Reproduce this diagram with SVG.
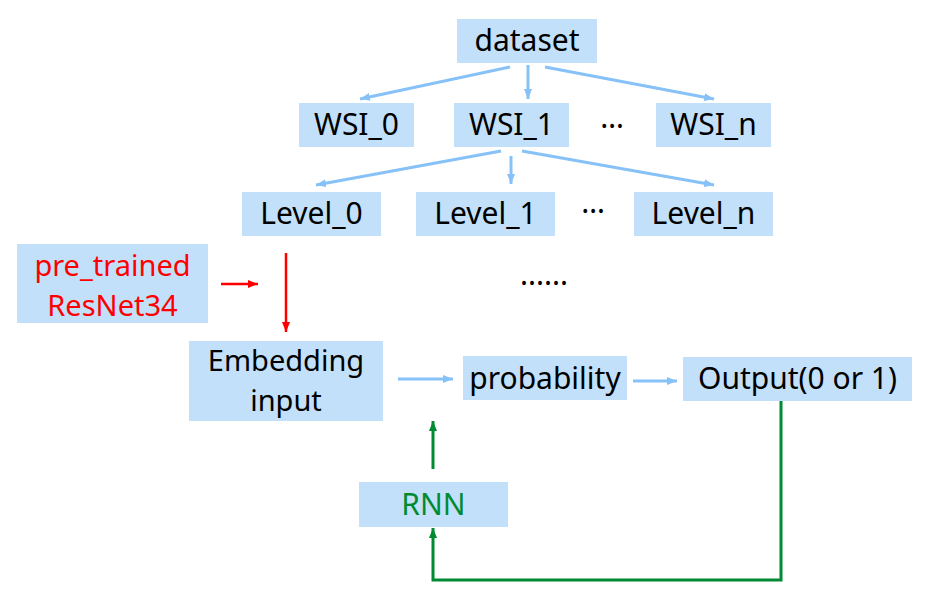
<svg xmlns="http://www.w3.org/2000/svg" width="926" height="597" viewBox="0 0 926 597">
<style>
.box{fill:#C3E0FA;}
.t{font-family:"Noto Sans","Open Sans","DejaVu Sans",sans-serif;font-size:30px;fill:#000;text-anchor:middle;}
.t2{font-size:29px;}
.red{fill:#FF0000;}
.grn{fill:#008A32;}
.cb{stroke:#86C1F8;stroke-width:3;fill:none;marker-end:url(#ab);}
.cr{stroke:#FF0000;stroke-width:2.5;fill:none;marker-end:url(#ar);}
.cg{stroke:#008A32;stroke-width:3;fill:none;marker-end:url(#ag);}
</style>
<defs>
<marker id="ab" markerUnits="userSpaceOnUse" viewBox="0 0 10 8" refX="10" refY="4" markerWidth="10" markerHeight="8" orient="auto"><path d="M0,0 L10,4 L0,8 z" fill="#86C1F8"/></marker>
<marker id="ar" markerUnits="userSpaceOnUse" viewBox="0 0 10 8" refX="10" refY="4" markerWidth="10" markerHeight="8" orient="auto"><path d="M0,0 L10,4 L0,8 z" fill="#FF0000"/></marker>
<marker id="ag" markerUnits="userSpaceOnUse" viewBox="0 0 10 8" refX="10" refY="4" markerWidth="10" markerHeight="8" orient="auto"><path d="M0,0 L10,4 L0,8 z" fill="#008A32"/></marker>
</defs>
<rect width="926" height="597" fill="#fff"/>
<g id="connectors">
<line class="cb" x1="510" y1="67" x2="360" y2="99"/>
<line class="cb" x1="528" y1="65" x2="528" y2="99"/>
<line class="cb" x1="545" y1="67" x2="714" y2="99"/>
<line class="cb" x1="501" y1="151" x2="316" y2="185"/>
<line class="cb" x1="511" y1="156" x2="511" y2="184"/>
<line class="cb" x1="522" y1="151" x2="714" y2="185"/>
<line class="cr" x1="221" y1="284" x2="258" y2="284"/>
<line class="cr" x1="286" y1="253" x2="286" y2="332"/>
<line class="cb" x1="398" y1="379" x2="453" y2="379"/>
<line class="cb" x1="633" y1="381" x2="677" y2="381"/>
<line class="cg" x1="433" y1="469" x2="433" y2="421"/>
<polyline class="cg" points="781,401 781,580 433,580 433,528"/>
</g>
<g id="dataset"><rect class="box" x="457" y="19" width="140" height="44"/><text class="t" x="527" y="51">dataset</text></g>
<g id="wsi0"><rect class="box" x="299" y="103" width="115" height="44"/><text class="t" x="356.5" y="135">WSI_0</text></g>
<g id="wsi1"><rect class="box" x="454" y="103" width="115" height="44"/><text class="t" x="511.5" y="135">WSI_1</text></g>
<g id="wsi-dots"><text class="t" x="612" y="128">…</text></g>
<g id="wsin"><rect class="box" x="656" y="103" width="115" height="44"/><text class="t" x="713.5" y="135">WSI_n</text></g>
<g id="level0"><rect class="box" x="242" y="192" width="139" height="44"/><text class="t" x="311.5" y="224">Level_0</text></g>
<g id="level1"><rect class="box" x="416" y="192" width="139" height="44"/><text class="t" x="485.5" y="224">Level_1</text></g>
<g id="level-dots"><text class="t" x="593" y="213">…</text></g>
<g id="leveln"><rect class="box" x="634" y="192" width="139" height="44"/><text class="t" x="703.5" y="224">Level_n</text></g>
<g id="more-dots"><text class="t" x="544" y="285">......</text></g>
<g id="resnet"><rect class="box" x="17" y="244" width="191" height="79"/><text class="t t2 red" x="112.5" y="275.5">pre_trained</text><text class="t t2 red" x="112.5" y="315.5">ResNet34</text></g>
<g id="embedding"><rect class="box" x="189" y="341" width="194" height="80"/><text class="t t2" x="286" y="371">Embedding</text><text class="t t2" x="286" y="411">input</text></g>
<g id="probability"><rect class="box" x="463" y="356" width="164" height="44"/><text class="t" x="545" y="389">probability</text></g>
<g id="output"><rect class="box" x="683" y="357" width="229" height="44"/><text class="t" x="797.5" y="389">Output(0 or 1)</text></g>
<g id="rnn"><rect class="box" x="359" y="482" width="149" height="45"/><text class="t grn" x="433.5" y="515">RNN</text></g>
</svg>
